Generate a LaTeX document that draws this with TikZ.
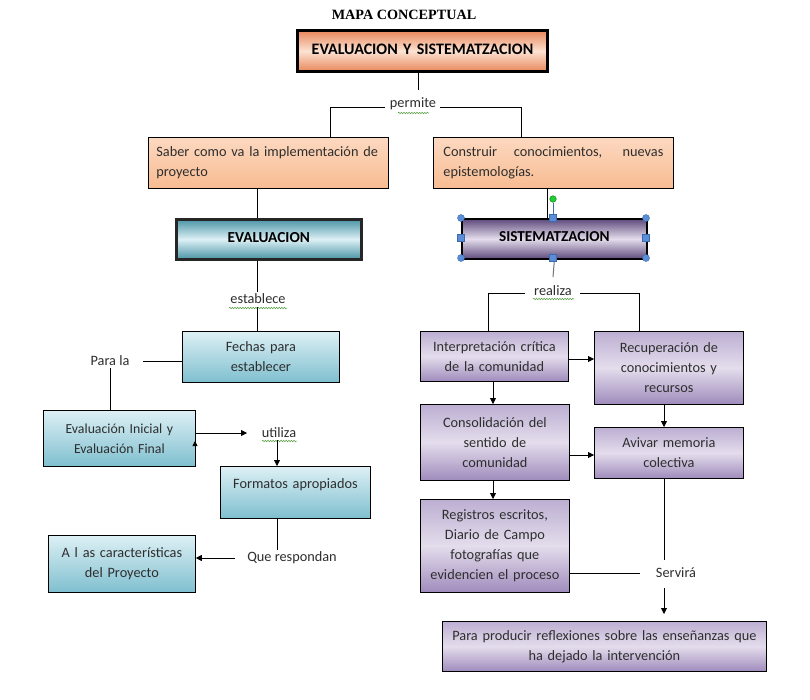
\documentclass[tikz,border=0pt]{standalone}
\usepackage{fontspec}
\setmainfont{Carlito}
\newfontfamily\titlefont{Liberation Serif}
\usetikzlibrary{arrows.meta,decorations.pathmorphing,calc}
\definecolor{orD}{HTML}{E8875A}
\definecolor{orL}{HTML}{FCE2D2}
\definecolor{peachT}{HTML}{FCD8C0}
\definecolor{peachB}{HTML}{F8BC92}
\definecolor{tealD}{HTML}{4A94A5}
\definecolor{tealL}{HTML}{DDF0F5}
\definecolor{tealM}{HTML}{7FBFCF}
\definecolor{purD}{HTML}{5E4A7C}
\definecolor{purL}{HTML}{E4DDEC}
\definecolor{purM}{HTML}{9F8BBC}
\definecolor{purT}{HTML}{BCAED2}
\definecolor{txt}{HTML}{2E2E2E}
\definecolor{spellgreen}{HTML}{4E9A3A}
\definecolor{handle}{HTML}{5B8ED6}
\definecolor{handleE}{HTML}{3A6AB0}
\definecolor{greendot}{HTML}{22CC33}
\begin{document}
\begin{tikzpicture}[x=1pt,y=-1pt,
  bx/.style={draw=black, line width=0.8pt, inner xsep=6pt, inner ysep=0pt, align=center, anchor=north west, text=txt, font=\fontsize{14.3}{20}\selectfont},
  peachbox/.style={top color=peachT, bottom color=peachB},
  topbox/.style={top color=orD, bottom color=orD, middle color=orL},
  tealbox/.style={top color=tealL, bottom color=tealM},
  tealhead/.style={top color=tealD, bottom color=tealD, middle color=tealL},
  purbox/.style={top color=purT, bottom color=purM, middle color=purL},
  purhead/.style={top color=purD, bottom color=purD, middle color=purL},
  lbl/.style={inner sep=1pt, text=txt, font=\fontsize{14.3}{16}\selectfont},
  arr/.style={-{Triangle[length=6pt,width=6pt]}, line width=0.8pt},
  ln/.style={line width=0.8pt},
  wavy/.style={draw=spellgreen, line width=0.5pt, decorate, decoration={snake, amplitude=0.7pt, segment length=2.6pt}}
]
\useasboundingbox (0,0) rectangle (810,699);
\fill[white] (0,0) rectangle (810,699);

% title
\node[font=\titlefont\bfseries\fontsize{14.2}{16}\selectfont] (title) at (404,15) {MAPA CONCEPTUAL};

% top
\node[bx, topbox, line width=3pt, minimum height=41, text width=238, text=black, font=\bfseries\fontsize{16}{18}\selectfont] (top) at (296,29) {\raisebox{3pt}{EVALUACION Y SISTEMATZACION}};
\node[lbl] (permite) at (413,104) {permite};
\node[bx, peachbox, text width=224, inner xsep=8pt, align=left, minimum height=51] (saber) at (148,137) {Saber como va la implementación de\\proyecto};
\node[bx, peachbox, text width=220, inner xsep=10pt, align=justify, minimum height=51] (constr) at (433,137) {Construir conocimientos, nuevas \linebreak epistemologías.};

% left branch
\node[bx, tealhead, line width=2.5pt, draw=black!85, text width=173, minimum height=40, text=black, font=\bfseries\fontsize{15.3}{17}\selectfont] (eval) at (175,218) {\raisebox{4pt}{EVALUACION}};
\node[lbl] (establece) at (258,299) {establece};
\node[bx, tealbox, text width=145, minimum height=51] (fechas) at (182,331) {Fechas para\\establecer};
\node[lbl] (parala) at (110,361) {Para la};
\node[bx, tealbox, text width=140, minimum height=56, font=\fontsize{13.8}{20}\selectfont] (evalini) at (43,410) {Evaluación Inicial y\\Evaluación Final};
\node[lbl] (utiliza) at (279,433) {utiliza};
\node[bx, tealbox, text width=138, minimum height=52] (formatos) at (220,466) {Formatos apropiados\\[-2pt]~};
\node[lbl] (querespondan) at (292,558) {Que respondan};
\node[bx, tealbox, text width=135, minimum height=57] (alas) at (48,535) {A l as características\\del Proyecto};

% right branch
\node[bx, purhead, line width=1.8pt, text width=173, minimum height=40, text=black, font=\bfseries\fontsize{15.2}{17}\selectfont] (sist) at (461,218) {\raisebox{4pt}{SISTEMATZACION}};
\node[lbl] (realiza) at (553,291) {realiza};
\node[bx, purbox, text width=136, minimum height=50] (interp) at (420,331) {Interpretación crítica\\de la comunidad};
\node[bx, purbox, text width=137, minimum height=73] (recup) at (594,331) {Recuperación de\\conocimientos y\\recursos};
\node[bx, purbox, text width=137, minimum height=76] (consol) at (420,404) {Consolidación del\\sentido de\\comunidad};
\node[bx, purbox, text width=137, minimum height=51] (avivar) at (594,427) {Avivar memoria\\colectiva};
\node[bx, purbox, text width=137, minimum height=93] (regis) at (420,499) {Registros escritos,\\Diario de Campo\\fotografías que\\evidencien el proceso};
\node[lbl] (servira) at (676,573) {Servirá};
\node[bx, purbox, text width=312, minimum height=50] (final) at (442,621) {Para producir reflexiones sobre las enseñanzas que\\ha dejado la intervención};

% spell-check underlines
\draw[wavy] (398,113) -- (429,113);
\draw[wavy] (229,308) -- (287,308);
\draw[wavy] (262,441) -- (297,441);
\draw[wavy] (533,299) -- (574,299);

% connectors top
\coordinate (c1) at (418,90);
\coordinate (pl) at (330,107);
\coordinate (pr) at (521,107);
\draw[ln] (top.south -| c1) -- (c1);
\draw[ln] (permite.west |- pl) ++(-4,0) -- (pl) -- (pl |- saber.north);
\draw[ln] (permite.east |- pr) ++(3,0) -- (pr) -- (pr |- constr.north);

% left connectors
\coordinate (ev) at (257,0);
\draw[ln] (saber.south -| ev) -- (eval.north -| ev);
\draw[ln] (eval.south -| ev) -- ($(establece.north -| ev)+(0,-1)$);
\draw[ln] (establece.south -| ev) ++(0,2) -- (fechas.north -| ev);
\coordinate (pj) at (143,361);
\draw[ln] (pj) -- (fechas.west |- pj);
\draw[ln] (parala.south) ++(0,1) -- (evalini.north -| parala);
\coordinate (ua) at (247,433);
\draw[arr] (evalini.east |- ua) -- (ua);
\coordinate (uarr) at (195,441);
\draw[-{Triangle[length=5pt,width=5pt]}, line width=0.8pt] ($(uarr)+(0,3)$) -- (uarr);
\coordinate (fx) at (277,0);
\draw[arr] (utiliza.south -| fx) ++(0,1) -- (formatos.north -| fx);
\coordinate (qr) at (277,550);
\draw[ln] (formatos.south -| qr) -- (qr);
\coordinate (qa) at (235,558);
\draw[arr] (qa) -- (alas.east |- qa);

% right connectors
\coordinate (sx) at (547,0);
\draw[ln] (constr.south -| sx) -- (sist.north -| sx);
\coordinate (sl) at (553,277);
\draw[line width=1pt, draw=black!55] (sist.south) -- (sl);
\coordinate (rl) at (488,293);
\coordinate (rr) at (639,293);
\draw[ln] (realiza.west |- rl) ++(-8,0) -- (rl) -- (rl |- interp.north);
\draw[ln] (realiza.east |- rr) ++(7,0) -- (rr) -- (rr |- recup.north);
\coordinate (ia) at (0,359);
\draw[arr] (interp.east |- ia) -- (recup.west |- ia);
\coordinate (ix) at (493,0);
\draw[arr] (interp.south -| ix) -- (consol.north -| ix);
\coordinate (rx) at (664,0);
\draw[arr] (recup.south -| rx) -- (avivar.north -| rx);
\coordinate (ca) at (0,455);
\draw[arr] (consol.east |- ca) -- (avivar.west |- ca);
\draw[arr] (consol.south -| ix) -- (regis.north -| ix);
\coordinate (sv) at (664,560);
\draw[ln] (avivar.south -| rx) -- (sv);
\coordinate (sh) at (640,573);
\draw[ln] (regis.east |- sh) -- (sh);
\coordinate (sd) at (664,588);
\draw[arr] (sd) -- ($(final.north -| rx)+(0,-7)$);

% selection handles
\draw[line width=0.8pt, draw=handleE] (553,203) -- (553,218);
\fill[greendot, draw=green!50!black, line width=0.4pt] (553,199) circle (3.3);
\foreach \p in {(461,218),(646,218),(461,258),(646,258)}
  \fill[handle, draw=handleE, line width=0.4pt] \p circle (3.5);
\foreach \p in {(553,218),(461,238),(646,238),(553,258)}
  \fill[handle, draw=handleE, line width=0.4pt] \p ++(-3.5,-3.5) rectangle ++(7,7);
\end{tikzpicture}
\end{document}
